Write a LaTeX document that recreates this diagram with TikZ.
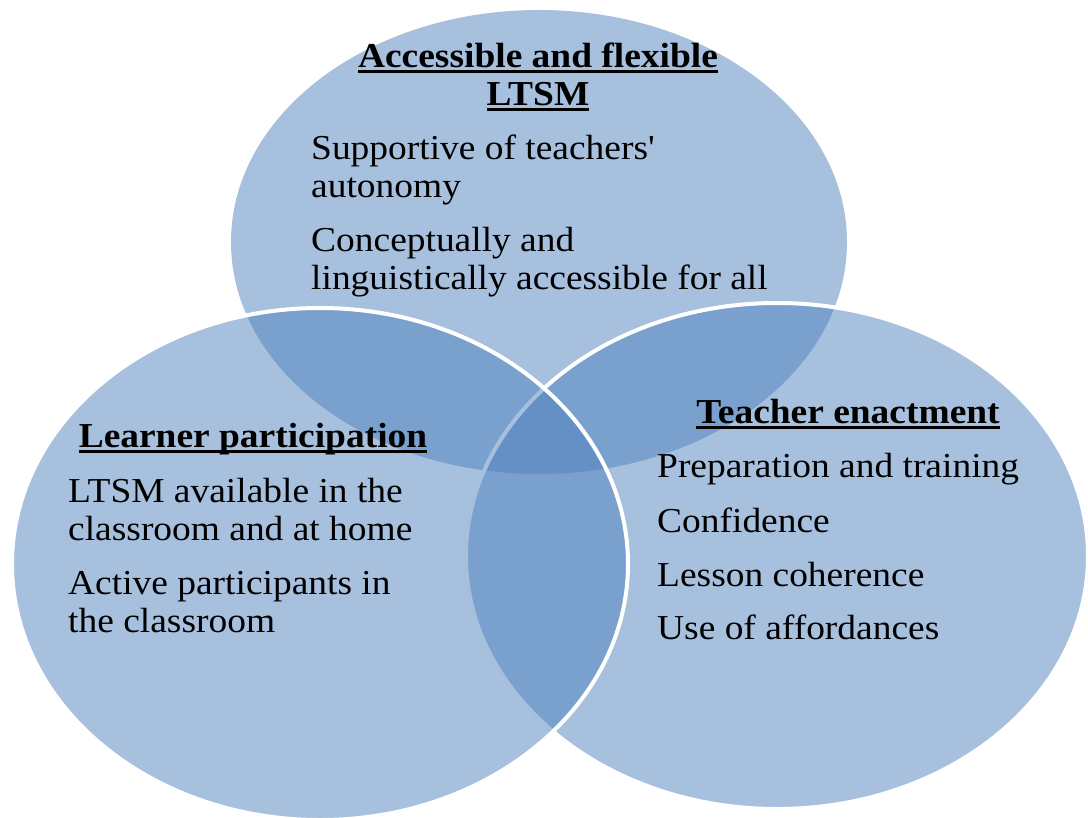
\documentclass[tikz,border=0pt]{standalone}
\usepackage{fontspec}
\setmainfont{Liberation Serif}[FakeStretch=1.07]
\newfontfamily\plainserif{Liberation Serif}[FakeStretch=1.07]
\usetikzlibrary{shapes.geometric}
\definecolor{vennblue}{HTML}{4F81BD}
\newcommand{\myul}[1]{\setbox0\hbox{#1}\rlap{\rule[-5pt]{\wd0}{2.6pt}}\box0}
\tikzset{
  venn/.style={ellipse, inner sep=0pt, fill=vennblue, fill opacity=0.5},
  vennb/.style={venn, draw=white, line width=4pt},
  txt/.style={inner sep=0pt, anchor=base west, font=\fontsize{35}{38}\selectfont},
  ttl/.style={inner sep=0pt, anchor=base, font=\fontsize{35}{38}\selectfont\bfseries}
}
\begin{document}
\begin{tikzpicture}[x=1pt,y=-1pt]
\useasboundingbox (0,0) rectangle (1088,818);
\node[venn, minimum width=616pt, minimum height=464pt] (top) at (539,242) {};
\node[vennb, minimum width=622pt, minimum height=506pt] (rgt) at (777,556) {};
\node[vennb, minimum width=616pt, minimum height=512pt] (lft) at (320,564) {};
% top circle texts
\node[ttl] (t1) at (538,68) {\myul{Accessible and flexible}};
\node[ttl] (t2) at (538,106) {\myul{LTSM}};
\node[txt] (a1) at (311,160) {Supportive of teachers{\plainserif'}};
\node[txt] (a2) at (311,198) {autonomy};
\node[txt] (a3) at (311,252) {Conceptually and};
\node[txt] (a4) at (311,290) {linguistically accessible for all};
% left circle texts
\node[ttl] (l0) at (253,448) {\myul{Learner participation}};
\node[txt] (l1) at (68,502) {LTSM available in the};
\node[txt] (l2) at (68,540) {classroom and at home};
\node[txt] (l3) at (68,594) {Active participants in};
\node[txt] (l4) at (68,632) {the classroom};
% right circle texts
\node[ttl] (r0) at (848,424) {\myul{Teacher enactment}};
\node[txt] (r1) at (657,478) {Preparation and training};
\node[txt] (r2) at (657,532) {Confidence};
\node[txt] (r3) at (657,586) {Lesson coherence};
\node[txt] (r4) at (657,639) {Use of affordances};
\end{tikzpicture}
\end{document}
